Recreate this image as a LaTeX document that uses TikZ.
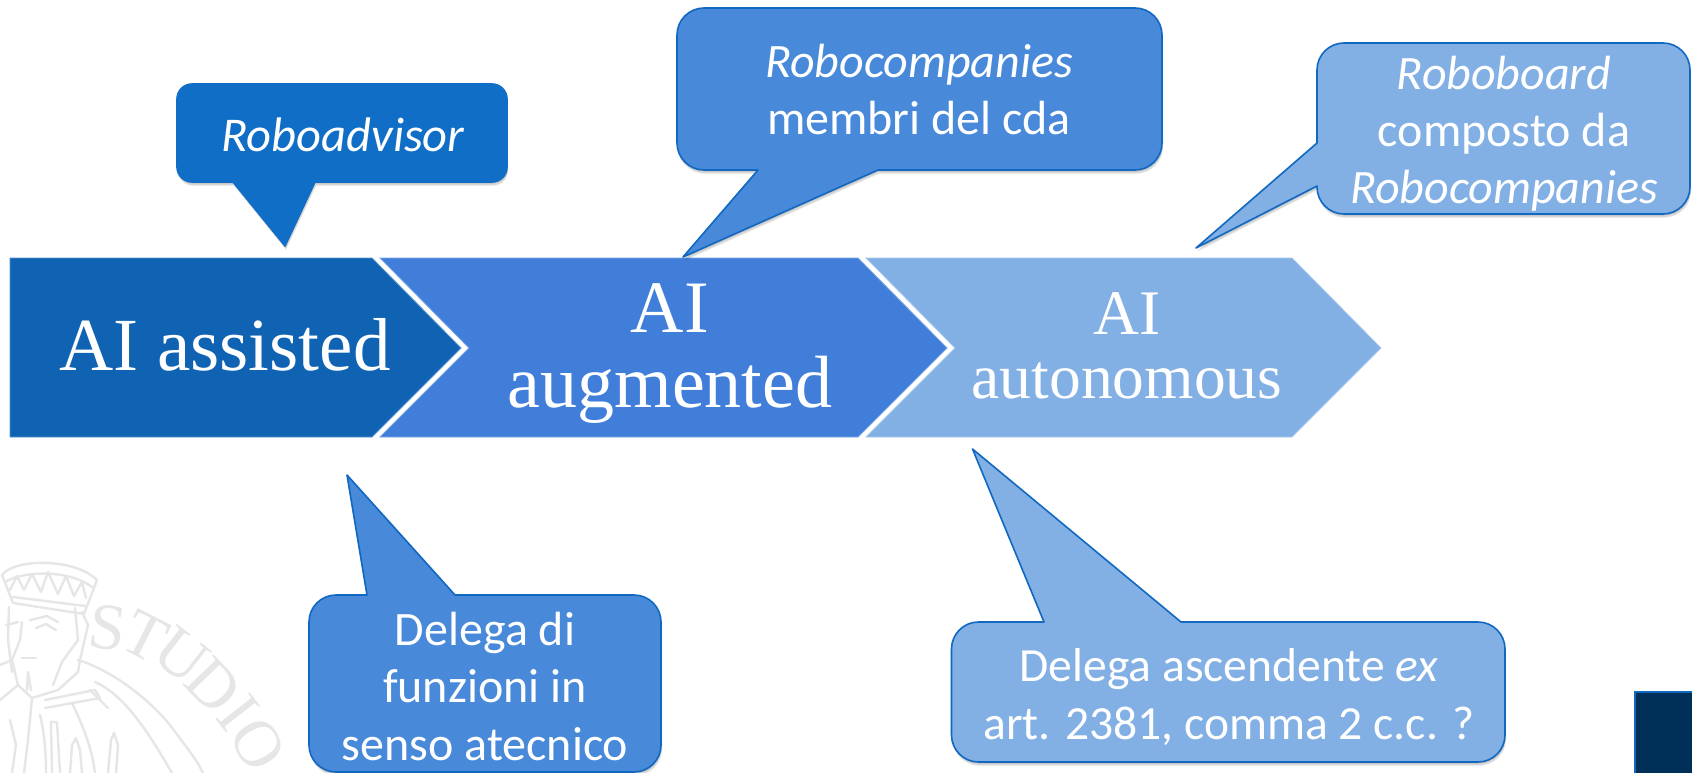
\documentclass[tikz,border=0pt]{standalone}
\usepackage{fontspec}
\setmainfont{Carlito}
\newfontfamily\serifface{Liberation Serif}
\usetikzlibrary{shadows}
\definecolor{cdark}{HTML}{1063B3}
\definecolor{cmid}{HTML}{407EDA}
\definecolor{clight}{HTML}{82B0E5}
\definecolor{bdark}{HTML}{106EC6}
\definecolor{bmid}{HTML}{4889D9}
\definecolor{edgeblue}{HTML}{1068C0}
\definecolor{navy}{HTML}{003057}
\definecolor{sealgrey}{HTML}{E6E6E6}
\tikzset{
  softshadow/.style={
    general shadow={shadow xshift=1pt,shadow yshift=-4pt,fill=black,opacity=.07},
    general shadow={shadow xshift=1pt,shadow yshift=-3pt,fill=black,opacity=.09},
    general shadow={shadow xshift=.5pt,shadow yshift=-1.5pt,fill=black,opacity=.10}},
  balloon/.style={softshadow,line width=1.6pt,line join=round,draw=edgeblue},
  balloontext/.style={text=white,align=center,inner sep=0pt,font=\fontsize{48}{57.5}\selectfont,anchor=base},
  chev/.style={line width=.8pt,line join=miter},
  chevtext/.style={text=white,align=center,inner sep=0pt,anchor=base},
  seal/.style={draw=sealgrey,line width=2.4pt,line cap=round,line join=round},
  sealletter/.style={text=sealgrey,inner sep=0pt,font=\serifface\fontsize{66}{66}\selectfont}
}
\begin{document}
\begin{tikzpicture}[x=1pt,y=-1pt]
\useasboundingbox (0,0) rectangle (1692,773);
\fill[white] (0,0) rectangle (1692,773);

% seal watermark
\draw[seal] (2,575) .. controls (15,558) and (75,558) .. (97,580);
\draw[seal] (5,582) .. controls (25,570) and (70,570) .. (92,587);
\draw[seal] (2,575) -- (13,603) -- (84,614) -- (97,580);
\draw[seal] (13,597) -- (85,606);
\draw[seal] (10,590) -- (17,576) -- (24,590) -- (32,574) -- (41,592) -- (48,572) -- (58,594) -- (66,576) -- (74,596) -- (82,582) -- (86,598);
\draw[seal] (9,607) -- (8,640) -- (12,672);
\draw[seal] (75,608) -- (78,640) -- (62,662) -- (53,685);
\draw[seal] (82,612) -- (88,625) -- (80,660) -- (78,672);
\draw[seal] (30,620) -- (47,616) -- (58,622);
\draw[seal] (36,628) -- (46,624) -- (56,630);
\draw[seal] (6,625) -- (18,622);
\draw[seal] (22,622) -- (20,640) -- (12,660) -- (18,685) -- (32,698) -- (58,690) -- (78,672);
\draw[seal] (22,658) -- (36,658);
\draw[seal] (27,690) -- (28,672) -- (31,690);
\draw[seal] (32,698) -- (28,740) -- (24,773);
\draw[seal] (45,700) -- (95,690) -- (100,698) -- (45,708);
\draw[seal] (90,690) -- (108,708);
\draw[seal] (78,660) .. controls (110,670) and (145,695) .. (170,725) .. controls (185,745) and (197,760) .. (203,773);
\draw[seal] (95,682) .. controls (125,695) and (150,735) .. (172,773);
\draw[seal] (72,703) .. controls (85,730) and (92,750) .. (95,773);
\draw[seal] (40,715) .. controls (45,735) and (46,755) .. (46,773);
\draw[seal] (52,773) -- (51,722) -- (57,722) -- (60,773);
\draw[seal] (10,720) -- (16,745) -- (12,773);
\draw[seal] (70,773) -- (72,745) -- (76,738) -- (80,750) -- (82,773);
\draw[seal] (108,773) -- (111,740) -- (114,733) -- (118,745) -- (116,773);
\draw[seal] (0,665) -- (12,660);
\draw[seal] (0,700) -- (18,685);
\foreach \px/\py/\ang/\ch/\nm in {108/628/-8/S/a,145/636/-27/T/b,181/655/-38/U/c,214/686/-46/D/d,238/713/-52/I/e,258/744/-60/O/f}
  \node[sealletter,rotate=\ang] (seal\nm) at (\px,\py) {\ch};

% chevrons
\path[chev,fill=cdark,draw=cdark!70!white] (10,258) -- (372,258) -- (461,348) -- (372,437) -- (10,437) -- cycle;
\path[chev,fill=cmid,draw=cmid!70!white] (380,258) -- (858,258) -- (947,348) -- (858,437) -- (380,437) -- (469,348) -- cycle;
\path[chev,fill=clight,draw=clight!70!white] (866,258) -- (1292,258) -- (1381,348) -- (1292,437) -- (866,437) -- (955,348) -- cycle;
\node[chevtext,font=\serifface\fontsize{75}{75}\selectfont] (assisted) at (225,370) {AI assisted};
\node[chevtext,font=\serifface\fontsize{74}{75}\selectfont] (augmented) at (670,407) {AI\\augmented};
\node[chevtext,font=\serifface\fontsize{63.5}{64}\selectfont] (autonomous) at (1127,398) {AI\\autonomous};

% balloons
\draw[balloon,fill=bdark,draw=bdark,rounded corners=15] (233,182) -- (177,182) -- (177,84) -- (507,84) -- (507,182) [sharp corners] -- (315,182) -- (285,246) -- cycle;
\node[balloontext,font=\fontsize{48.5}{57.5}\selectfont] (b1) at (343,151) {\itshape Roboadvisor};

\draw[balloon,fill=bmid,rounded corners=27] (758,170) -- (677,170) -- (677,8) -- (1162,8) -- (1162,170) [sharp corners] -- (878,170) -- (683,257) -- cycle;
\node[balloontext] (b2) at (919,135) {\itshape Robocompanies\\membri del cda};

\draw[balloon,fill=clight,rounded corners=27] (1317,186) -- (1317,214) -- (1690,214) -- (1690,43) -- (1317,43) [sharp corners] -- (1317,143) -- (1196,248) -- cycle;
\node[balloontext] (b3) at (1504,204) {\itshape Roboboard\\composto da\\\itshape Robocompanies};

\draw[balloon,fill=bmid,rounded corners=27] (455,595) -- (661,595) -- (661,772) -- (309,772) -- (309,595) [sharp corners] -- (367,595) -- (347,475) -- cycle;
\node[balloontext] (b4) at (485,760) {Delega di\\funzioni in\\senso atecnico};

\draw[balloon,fill=clight,rounded corners=27] (1181,622) -- (1505,622) -- (1505,762) -- (951.5,762) -- (951.5,622) [sharp corners] -- (1044,622) -- (972.5,449) -- cycle;
\node[balloontext,font=\fontsize{47.6}{57.5}\selectfont] (b5) at (1229,739) {Delega ascendente \textit{ex}\\art. 2381, comma 2 c.c. ?};

% corner square
\path[softshadow,fill=navy,draw=edgeblue,line width=1.6pt] (1635,692) rectangle (1700,780);
\end{tikzpicture}
\end{document}
